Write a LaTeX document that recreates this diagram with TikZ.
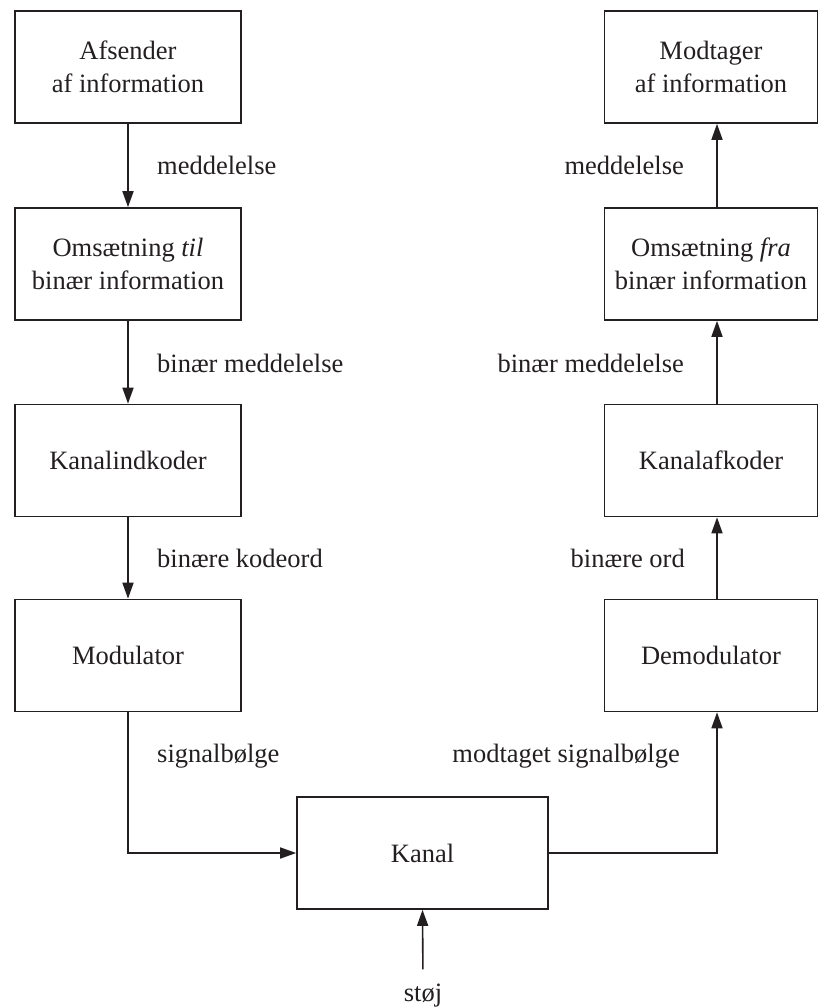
\documentclass[tikz,border=0pt]{standalone}
\usepackage{fontspec}
\setmainfont{Liberation Serif}
\usetikzlibrary{arrows.meta}
\definecolor{ink}{RGB}{35,31,32}
\begin{document}
\begin{tikzpicture}[x=1pt,y=-1pt, every node/.style={text=ink},
  box/.style={draw=ink, line width=1.6pt, minimum width=226pt, minimum height=112pt, align=center, inner sep=0pt,
    font=\fontsize{26.5}{33}\selectfont},
  rbox/.style={box, minimum width=213pt},
  lbl/.style={inner sep=0pt, font=\fontsize{26.5}{33}\selectfont},
  arr/.style={draw=ink, line width=1.6pt, -{Triangle[length=16pt,width=11pt]}}]
\useasboundingbox (0,0) rectangle (819,1008);
% left column
\node[box] (snd) at (128,67) {Afsender\\af information};
\node[box] (tb) at (128,264) {Omsætning \textit{til}\\binær information};
\node[box] (enc) at (128,460.5) {Kanalindkoder};
\node[box] (mod) at (128,655.5) {Modulator};
% right column
\coordinate (colR) at (717,0);
\node[rbox] (rcv) at (711,67) {Modtager\\af information};
\node[rbox] (fb) at (711,264) {Omsætning \textit{fra}\\binær information};
\node[rbox] (dec) at (711,460.5) {Kanalafkoder};
\node[rbox] (dem) at (711,655.5) {Demodulator};
% channel
\node[box, minimum width=251pt] (kan) at (422.5,853) {Kanal};
\node[lbl, anchor=base] (noise) at (423,1001) {støj};
% left arrows
\draw[arr] (snd) -- (tb);
\draw[arr] (tb) -- (enc);
\draw[arr] (enc) -- (mod);
\draw[arr] (mod.south) |- (kan.west);
% right arrows
\draw[arr] (kan.east) -| (dem.south -| colR);
\draw[arr] (dem.north -| colR) -- (dec.south -| colR);
\draw[arr] (dec.north -| colR) -- (fb.south -| colR);
\draw[arr] (fb.north -| colR) -- (rcv.south -| colR);
\draw[arr, shorten <=14pt] (noise.north) -- (kan.south);
% left labels
\node[lbl, anchor=base west] (l1) at (157,175) {meddelelse};
\node[lbl, anchor=base west] (l2) at (157,372) {binær meddelelse};
\node[lbl, anchor=base west] (l3) at (157,567) {binære kodeord};
\node[lbl, anchor=base west] (l4) at (157,762) {signalbølge};
% right labels
\node[lbl, anchor=base east] (r1) at (684,175) {meddelelse};
\node[lbl, anchor=base east] (r2) at (684,372) {binær meddelelse};
\node[lbl, anchor=base east] (r3) at (685,567) {binære ord};
\node[lbl, anchor=base east] (r4) at (680,762) {modtaget signalbølge};
\end{tikzpicture}
\end{document}
